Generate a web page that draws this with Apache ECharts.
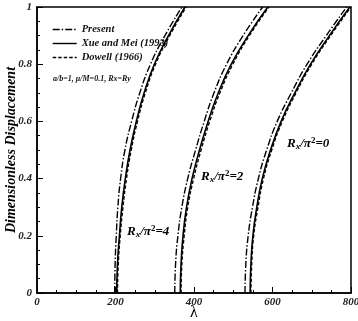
<!DOCTYPE html>
<html><head><meta charset="utf-8">
<script src="https://cdn.jsdelivr.net/npm/echarts@6/dist/echarts.min.js"></script>
<style>html,body{margin:0;padding:0;background:#fff}#c{width:358px;height:321px}</style>
</head><body><div id="c"></div>
<script>
// Dimensionless displacement levels
const disp = [0, 0.1, 0.2, 0.3, 0.4, 0.5, 0.6, 0.7, 0.8, 0.9, 1.0];
// λ values for Xue and Mei (1993) (solid)
const xue0 = [543, 545, 550, 560, 574, 595, 622, 657, 697, 745, 797];
const xue2 = [365, 367, 372, 381, 395, 414, 436, 462, 495, 538, 588];
const xue4 = [203, 205, 210, 216, 225, 237, 253, 273, 299, 335, 377];
// λ values for Present (dash-dot)
const pre0 = [530, 532, 538, 549, 564, 585, 612, 648, 688, 737, 789];
const pre2 = [351, 353, 359, 369, 384, 404, 426, 451, 483, 525, 575];
const pre4 = [198, 199, 202, 206, 213, 224, 241, 262, 289, 326, 369];
// λ values for Dowell (1966) (dashed)
const dow0 = [545, 547, 552, 563, 577, 598, 625, 660, 700, 748, 800];
const dow2 = [367, 369, 375, 384, 399, 418, 440, 466, 499, 541, 591];
const dow4 = [205, 207, 212, 219, 228, 240, 256, 276, 302, 338, 380];
const xTicks = [0, 200, 400, 600, 800];
const legendNames = ['Present', 'Xue and Mei (1993)', 'Dowell (1966)'];

const font = '"Liberation Serif", "Times New Roman", serif';
const pairs = (lam) => lam.map((v, i) => [v, disp[i]]);
const styles = {
  'Present': {type: [7, 2, 1.5, 2], width: 1.4},
  'Xue and Mei (1993)': {type: 'solid', width: 1.6},
  'Dowell (1966)': {type: [3.5, 2], width: 1.4}
};
const groups = [
  [legendNames[0], [pre4, pre2, pre0]],
  [legendNames[1], [xue4, xue2, xue0]],
  [legendNames[2], [dow4, dow2, dow0]]
];
const series = [];
groups.forEach(([name, arrs]) => {
  arrs.forEach(a => series.push({
    name, type: 'line', data: pairs(a), smooth: 0.5, showSymbol: false, symbol: 'none',
    lineStyle: {color: '#000', type: styles[name].type, width: styles[name].width},
    itemStyle: {color: '#000'}, z: name === legendNames[1] ? 3 : 2
  }));
});

const chart = echarts.init(document.getElementById('c'));
const lab = {fontFamily: font, fontStyle: 'italic', fontWeight: 'bold', color: '#222', fontSize: 11};
const ann = (x, y, val) => ({
  type: 'text', left: x, top: y,
  style: {
    text: '{a|R}{s|x}{a|/π}{p|2}{a|=' + val + '}',
    rich: {
      a: {fontFamily: font, fontStyle: 'italic', fontWeight: 'bold', fontSize: 13, fill: '#000'},
      s: {fontFamily: font, fontStyle: 'italic', fontWeight: 'bold', fontSize: 9, fill: '#000', verticalAlign: 'bottom', padding: [6, 0, 0, 0]},
      p: {fontFamily: font, fontWeight: 'bold', fontSize: 9, fill: '#000', verticalAlign: 'top', padding: [0, 0, 6, 0]}
    }
  }
});
chart.setOption({
  animation: false,
  backgroundColor: '#fff',
  grid: {left: 37, right: 7, top: 7, bottom: 28, containLabel: false, outerBoundsMode: 'none',
         show: true, borderColor: '#000', borderWidth: 1.5},
  legend: {
    orient: 'vertical', left: 52, top: 23, padding: 0, itemWidth: 24, itemHeight: 10, itemGap: 1,
    data: legendNames,
    itemStyle: {opacity: 0},
    lineStyle: {width: 1.4},
    textStyle: {fontFamily: font, fontStyle: 'italic', fontWeight: 'bold', fontSize: 10.5, color: '#111', lineHeight: 13}
  },
  xAxis: {
    type: 'value', min: 0, max: 800, interval: 200,
    name: 'λ', nameLocation: 'middle', nameGap: 12, nameMoveOverlap: false,
    nameTextStyle: {fontFamily: font, fontSize: 16, color: '#000', verticalAlign: 'top'},
    axisLine: {lineStyle: {color: '#000', width: 1.5}},
    axisTick: {inside: true, length: 6, lineStyle: {color: '#000'}},
    minorTick: {show: true, splitNumber: 4, length: 3, lineStyle: {color: '#000'}},
    axisLabel: Object.assign({margin: 4, formatter: v => xTicks.includes(v) ? String(v) : ''}, lab),
    splitLine: {show: false}
  },
  yAxis: {
    type: 'value', min: 0, max: 1, interval: 0.2,
    name: 'Dimensionless Displacement', nameLocation: 'middle', nameGap: 19, nameMoveOverlap: false,
    nameTextStyle: {fontFamily: font, fontStyle: 'italic', fontWeight: 'bold', fontSize: 14, color: '#000'},
    axisLine: {lineStyle: {color: '#000', width: 1.5}},
    axisTick: {inside: true, length: 6, lineStyle: {color: '#000'}},
    minorTick: {show: true, splitNumber: 4, length: 3, lineStyle: {color: '#000'}},
    axisLabel: Object.assign({margin: 5}, lab),
    splitLine: {show: false}
  },
  graphic: [
    {type: 'text', left: 53, top: 75,
     style: {text: 'a/b=1, μ/M=0.1, Rx=Ry', fontFamily: font, fontStyle: 'italic', fontWeight: 'bold', fontSize: 8, fill: '#111'}},
    ann(127, 224, '4'),
    ann(201, 169, '2'),
    ann(287, 136, '0')
  ],
  series
});
</script></body></html>
